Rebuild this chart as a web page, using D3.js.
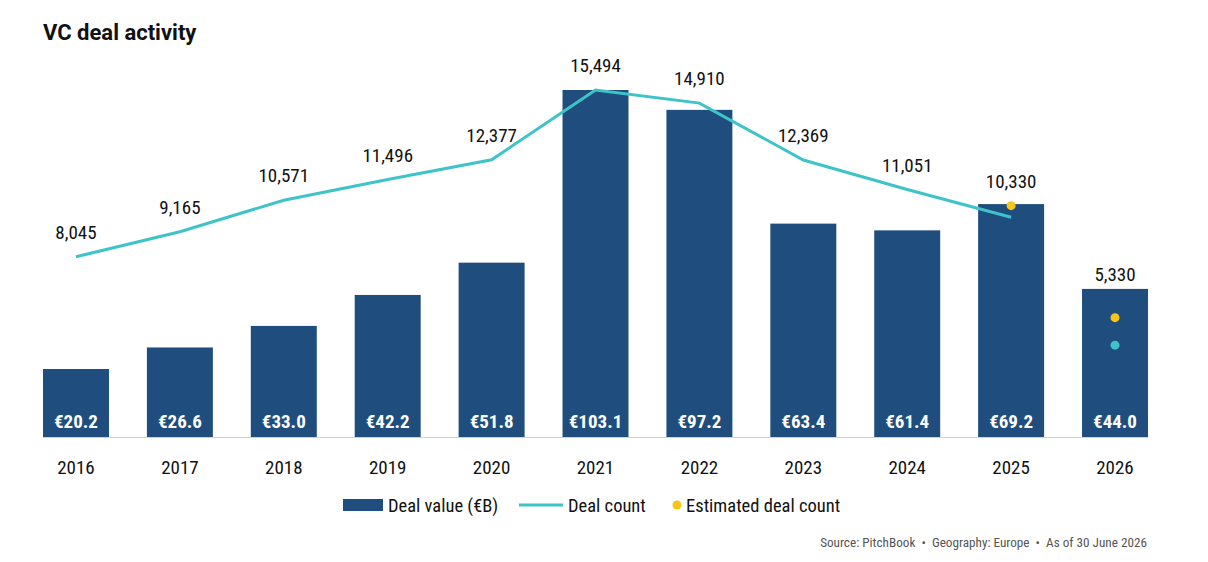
<!DOCTYPE html>
<html><head><meta charset="utf-8">
<script src="https://cdn.jsdelivr.net/npm/d3@7"></script>
<style>
body{margin:0;background:#fff;}
svg{display:block;}
.cond{font-family:"Roboto Condensed","Liberation Sans Narrow","Arial Narrow",Roboto,sans-serif;}
</style></head>
<body><svg id="c" width="1208" height="562"></svg>
<script>
const years = ["2016","2017","2018","2019","2020","2021","2022","2023","2024","2025","2026"];
const dealValue = [20.2,26.6,33.0,42.2,51.8,103.1,97.2,63.4,61.4,69.2,44.0];
const dealCount = [8045,9165,10571,11496,12377,15494,14910,12369,11051,9810,4100];
const estimatedCount = [null,null,null,null,null,null,null,null,null,10330,5330];
const countLabels = ["8,045","9,165","10,571","11,496","12,377","15,494","14,910","12,369","11,051","10,330","5,330"];

const svg = d3.select("#c");
const x = d3.scaleBand().domain(years).range([43, 1148]).paddingInner(0.365).paddingOuter(0);
const base = 437;
const yV = d3.scaleLinear().domain([0, 103.1]).range([base, 90]);
const yC = d3.scaleLinear().domain([0, 15494]).range([base, 90]);
const cx = d => x(d) + x.bandwidth()/2;

svg.append("text").attr("x",43).attr("y",40).attr("font-family","Roboto, sans-serif")
  .attr("font-weight",700).attr("font-size",22).attr("fill","#111").text("VC deal activity");

// bars
svg.selectAll("rect.bar").data(years).enter().append("rect").attr("class","bar")
  .attr("x",d=>x(d)).attr("width",x.bandwidth())
  .attr("y",(d,i)=>yV(dealValue[i])).attr("height",(d,i)=>base-yV(dealValue[i]))
  .attr("fill","#1f4e7e");

// baseline
svg.append("line").attr("x1",43).attr("x2",1148).attr("y1",base+0.5).attr("y2",base+0.5)
  .attr("stroke","#d4d0cc").attr("stroke-width",1.2);

// bar value labels
svg.selectAll("text.bv").data(years).enter().append("text").attr("class","bv cond")
  .attr("x",d=>cx(d)).attr("y",428).attr("text-anchor","middle")
  .attr("font-weight",700).attr("font-size",19).attr("fill","#fff")
  .text((d,i)=>"€"+dealValue[i].toFixed(1));

// year labels
svg.selectAll("text.yr").data(years).enter().append("text").attr("class","yr cond")
  .attr("x",d=>cx(d)).attr("y",474).attr("text-anchor","middle")
  .attr("font-size",19).attr("fill","#111").text(d=>d);

// line (2016-2025)
const lineYears = years.slice(0,10);
svg.append("path").datum(lineYears)
  .attr("d", d3.line().x(d=>cx(d)).y((d)=>yC(dealCount[years.indexOf(d)])))
  .attr("fill","none").attr("stroke","#3ec4c8").attr("stroke-width",3);

// 2026 actual count dot
svg.append("circle").attr("cx",cx("2026")).attr("cy",yC(dealCount[10])).attr("r",4.5).attr("fill","#3ec4c8");

// estimated dots
svg.selectAll("circle.est").data(years.filter((d,i)=>estimatedCount[i]!=null)).enter()
  .append("circle").attr("class","est")
  .attr("cx",d=>cx(d)).attr("cy",d=>yC(estimatedCount[years.indexOf(d)])).attr("r",4.5).attr("fill","#f5c518");

// count labels
svg.selectAll("text.cl").data(years).enter().append("text").attr("class","cl cond")
  .attr("x",d=>cx(d))
  .attr("y",(d,i)=>{
    const yc = yC(estimatedCount[i]!=null ? estimatedCount[i] : dealCount[i]);
    const yb = yV(dealValue[i]);
    return (yb < yc - 10) ? yb - 8 : yc - 18;
  })
  .attr("text-anchor","middle").attr("font-size",19).attr("fill","#111")
  .text((d,i)=>countLabels[i]);

// legend
const lg = svg.append("g");
lg.append("rect").attr("x",343).attr("y",499).attr("width",40).attr("height",12).attr("fill","#1f4e7e");
lg.append("text").attr("class","cond").attr("x",388).attr("y",512).attr("font-size",18.5).attr("fill","#111").text("Deal value (€B)");
lg.append("line").attr("x1",519).attr("x2",563).attr("y1",505).attr("y2",505).attr("stroke","#3ec4c8").attr("stroke-width",3);
lg.append("text").attr("class","cond").attr("x",568).attr("y",512).attr("font-size",18.5).attr("fill","#111").text("Deal count");
lg.append("circle").attr("cx",677).attr("cy",505).attr("r",4.5).attr("fill","#f5c518");
lg.append("text").attr("class","cond").attr("x",686).attr("y",512).attr("font-size",18.5).attr("fill","#111").text("Estimated deal count");

svg.append("text").attr("class","cond").attr("x",1147).attr("y",547).attr("text-anchor","end")
  .attr("font-size",13.2).attr("fill","#555").attr("xml:space","preserve")
  .text("Source: PitchBook  •  Geography: Europe  •  As of 30 June 2026");
</script></body></html>
